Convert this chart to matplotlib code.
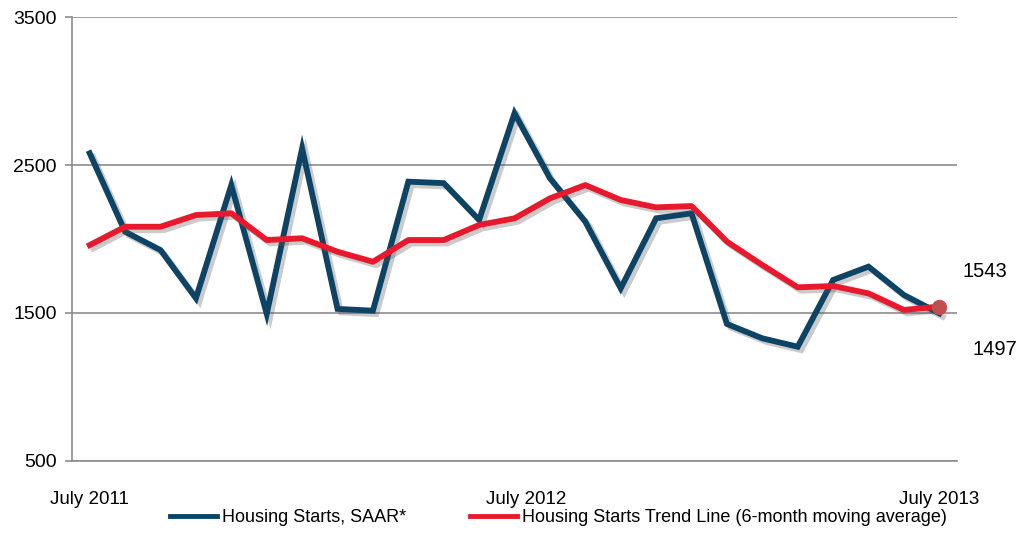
import matplotlib
matplotlib.use("Agg")
import matplotlib.pyplot as plt
import matplotlib.patheffects as pe
import matplotlib.transforms as mtransforms

plt.rcParams['font.family'] = ['Liberation Sans', 'DejaVu Sans']

months = list(range(25))
tick_positions = [0, 12, 24]
tick_labels = ["July 2011", "July 2012", "July 2013"]

starts = [2580, 2049, 1925, 1599, 2365, 1493, 2613, 1527, 1515, 2388, 2378, 2129,
          2851, 2411, 2117, 1666, 2140, 2174, 1425, 1328, 1271, 1723, 1813, 1621, 1497]
trend = [1959, 2083, 2083, 2162, 2174, 1993, 2005, 1914, 1846, 1993, 1993, 2095,
         2140, 2275, 2365, 2264, 2214, 2223, 1982, 1824, 1673, 1682, 1632, 1520, 1543]

blue = "#0D4466"
red = "#E8192C"
marker_col = "#C0504D"
grid_col = "#8C8C8C"

fig = plt.figure(figsize=(10.23, 5.36), dpi=100)
ax = fig.add_axes([0.0704, 0.1405, 0.8651, 0.8272])

shadow = [pe.SimpleLineShadow(offset=(2.5, -2.5), alpha=0.3, shadow_color="#555555"), pe.Normal()]
ax.plot(months, starts, color=blue, lw=4.2, solid_joinstyle='miter', path_effects=shadow,
        label="Housing Starts, SAAR*", zorder=3)
ax.plot(months, trend, color=red, lw=4.2, solid_joinstyle='round', path_effects=shadow,
        label="Housing Starts Trend Line (6-month moving average)", zorder=4)
ax.plot([months[-1]], [trend[-1]], 'o', color=marker_col, ms=10, zorder=5)

ax.annotate(str(trend[-1]), (months[-1], trend[-1]), xytext=(17, 25), textcoords='offset points',
            fontsize=14.5, ha='left', va='center')
ax.annotate(str(starts[-1]), (months[-1], starts[-1]), xytext=(24, -26), textcoords='offset points',
            fontsize=14.5, ha='left', va='center')

ax.set_xlim(-0.5, 24.5)
ax.set_ylim(500, 3500)
ax.set_yticks([500, 1500, 2500, 3500])
ax.set_xticks(tick_positions)
ax.set_xticklabels(tick_labels)
ax.tick_params(axis='x', length=0, pad=22, labelsize=13.5)
ax.tick_params(axis='y', length=5, color=grid_col, width=1.2, labelsize=14, pad=6)
lbl = ax.get_xticklabels()[1]
lbl.set_transform(lbl.get_transform() + mtransforms.ScaledTranslation(0.12, 0, fig.dpi_scale_trans))
ax.grid(axis='y', color=grid_col, lw=1.2)
ax.set_axisbelow(True)
for s in ['top', 'right']:
    ax.spines[s].set_visible(False)
ax.spines['left'].set_color(grid_col)
ax.spines['left'].set_linewidth(1.2)
ax.spines['bottom'].set_color(grid_col)
ax.spines['bottom'].set_linewidth(1.2)

h, l = ax.get_legend_handles_labels()
leg = fig.legend(h, l, loc='center', bbox_to_anchor=(0.546, 0.034), ncol=2, frameon=False,
                 fontsize=13, handlelength=2.6, handletextpad=0.3, columnspacing=3.5)
for line in leg.get_lines():
    line.set_path_effects([])
    line.set_linewidth(3.5)

fig.savefig("out.png", dpi=100)
